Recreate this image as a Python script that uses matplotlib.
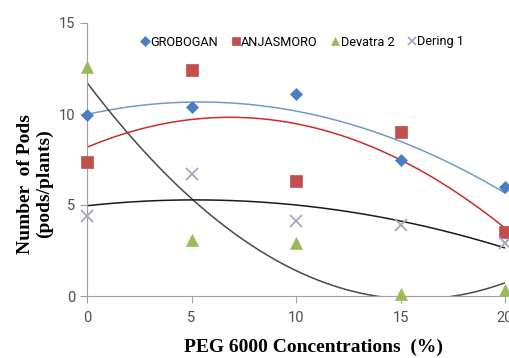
import numpy as np
import matplotlib
matplotlib.use("Agg")
import matplotlib.pyplot as plt

conc = [0, 5, 10, 15, 20]
grobogan = [9.95, 10.4, 11.1, 7.5, 6.0]
anjasmoro = [7.35, 12.4, 6.3, 9.0, 3.5]
devatra = [12.6, 3.1, 2.9, 0.1, 0.35]
dering = [4.4, 6.7, 4.1, 3.9, 2.9]
names = ["GROBOGAN", "ANJASMORO", "Devatra 2", "Dering 1"]
xticks = [0, 5, 10, 15, 20]
yticks = [0, 5, 10, 15]

series = [grobogan, anjasmoro, devatra, dering]
markers = ["D", "s", "^", "x"]
mcolors = ["#4A7EC0", "#C0504D", "#9BBB59", "#A6A6C0"]
msizes = [6.5, 8, 8, 8]
lcolors = ["#6E9BC9", "#D02A2A", "#4A4A40", "#1A1A1A"]

fig = plt.figure(figsize=(5.10, 3.58), dpi=100)
ax = fig.add_axes([87/510, 1-296/358, 418/510, 273/358])

xs = np.linspace(0, 20, 200)
for vals, m, mc, ms, lc, nm in zip(series, markers, mcolors, msizes, lcolors, names):
    ax.plot(conc, vals, linestyle="none", marker=m, color=mc, markersize=ms,
            markeredgewidth=1.3 if m == "x" else 0.5, label=nm, clip_on=False, zorder=3)
    coef = np.polyfit(conc, vals, 2)
    ax.plot(xs, np.polyval(coef, xs), color=lc, linewidth=1.1, zorder=2)

ax.set_xlim(0, 20)
ax.set_ylim(0, 15)
ax.set_xticks(xticks)
ax.set_yticks(yticks)
for s in ["top", "right"]:
    ax.spines[s].set_visible(False)
for s in ["left", "bottom"]:
    ax.spines[s].set_color("#A0A0A0")
ax.tick_params(axis="both", colors="#A0A0A0", labelcolor="#505050", labelsize=10.5, length=5)
for lab in ax.get_xticklabels() + ax.get_yticklabels():
    lab.set_family("Roboto")
ax.tick_params(axis="x", pad=6)

fig.text(313/510, 1-347/358, "PEG 6000 Concentrations  (%)", family="Liberation Serif",
         fontweight="bold", fontsize=14, ha="center", va="center")
fig.text(35/510, 1-184/358, "Number  of Pods\n(pods/plants)", family="Liberation Serif",
         fontweight="bold", fontsize=14, ha="center", va="center", rotation=90,
         multialignment="center", linespacing=1.2)

leg = ax.legend(loc="center", bbox_to_anchor=((302-87)/418, (296-42)/273), ncol=4, frameon=False,
                prop={"family": "Roboto", "size": 9.2},
                handletextpad=0.0, columnspacing=1.0, handlelength=0.8, markerscale=0.8)

fig.savefig("out.png", dpi=100)
